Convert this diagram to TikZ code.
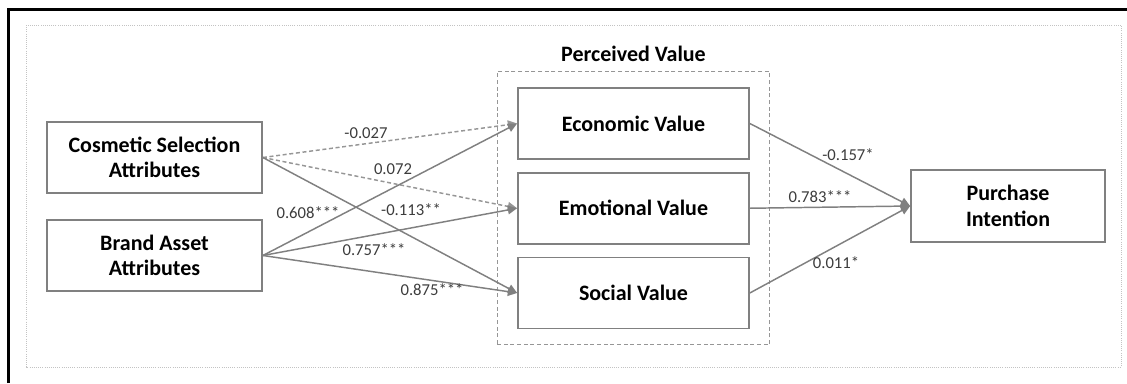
\documentclass[tikz,border=0pt]{standalone}
\usepackage{fontspec}
\setmainfont{Carlito}
\usetikzlibrary{positioning,fit,arrows.meta}
\definecolor{boxgray}{RGB}{128,128,128}
\definecolor{arrowgray}{RGB}{128,128,128}
\definecolor{dashgray}{RGB}{150,150,150}
\definecolor{labelgray}{RGB}{60,60,60}
\definecolor{framegray}{RGB}{195,195,195}

\begin{document}
\begin{tikzpicture}[x=0.75pt, y=-0.75pt,
    varbox/.style={draw=boxgray, line width=1.3pt, fill=white, align=center,
        font=\fontsize{16.5}{19}\selectfont\bfseries, minimum height=53.25pt},
    link/.style={draw=arrowgray, line width=1.1pt, -{Triangle[length=7pt,width=6.5pt]}},
    weak/.style={link, draw=dashgray, dash pattern=on 3pt off 2pt},
    coef/.style={font=\fontsize{12.5}{14}\selectfont, text=labelgray, inner sep=1pt}]

\useasboundingbox (0,0) rectangle (1127,383);

% Outer frame (cut off at right and bottom)
\draw[line width=2.25pt] (8,383) -- (8,9) -- (1127,9);
\draw[framegray, densely dotted, line width=0.6pt] (26,25) rectangle (1121,367);

% Independent variables
\node[varbox, minimum width=161.25pt] (csa) at (154.5,157.5) {Cosmetic Selection\\Attributes};
\node[varbox, minimum width=161.25pt] (baa) at (154.5,255.5) {Brand Asset\\Attributes};

% Perceived value
\node[varbox, minimum width=173.25pt] (ev) at (633.5,123.5) {Economic Value};
\node[varbox, minimum width=173.25pt, below=9pt of ev] (emv) {Emotional Value};
\node[varbox, minimum width=173.25pt, below=9pt of emv] (sv) {Social Value};
\node[draw=dashgray, line width=0.8pt, dash pattern=on 3pt off 2pt, fit=(ev)(sv),
    inner xsep=15pt, inner ysep=11.5pt] (pv) {};
\node[font=\fontsize{16.5}{19}\selectfont\bfseries, above=4pt of pv] (pvt) {Perceived Value};

% Dependent variable
\node[varbox, minimum width=145.5pt, minimum height=54pt] (pi) at (1008,206) {Purchase\\Intention};

% Paths into perceived value
\draw[weak] (csa.east) -- (ev.west);
\draw[weak] (csa.east) -- (emv.west);
\draw[link] (csa.east) -- (sv.west);
\draw[link] (baa.east) -- (ev.west);
\draw[link] (baa.east) -- (emv.west);
\draw[link] (baa.east) -- (sv.west);

% Paths into purchase intention
\draw[link] (ev.east) -- (pi.west);
\draw[link] (emv.east) -- (pi.west);
\draw[link] (sv.east) -- (pi.west);

% Coefficients
\node[coef] (c1) at (366,133) {-0.027};
\node[coef] (c2) at (393,169) {0.072};
\node[coef] (c3) at (411,210) {-0.113**};
\node[coef] (c4) at (308,213) {0.608***};
\node[coef] (c5) at (374,250) {0.757***};
\node[coef] (c6) at (432,290) {0.875***};
\node[coef] (c7) at (848,155) {-0.157*};
\node[coef] (c8) at (820,197) {0.783***};
\node[coef] (c9) at (836,263) {0.011*};

\end{tikzpicture}
\end{document}
